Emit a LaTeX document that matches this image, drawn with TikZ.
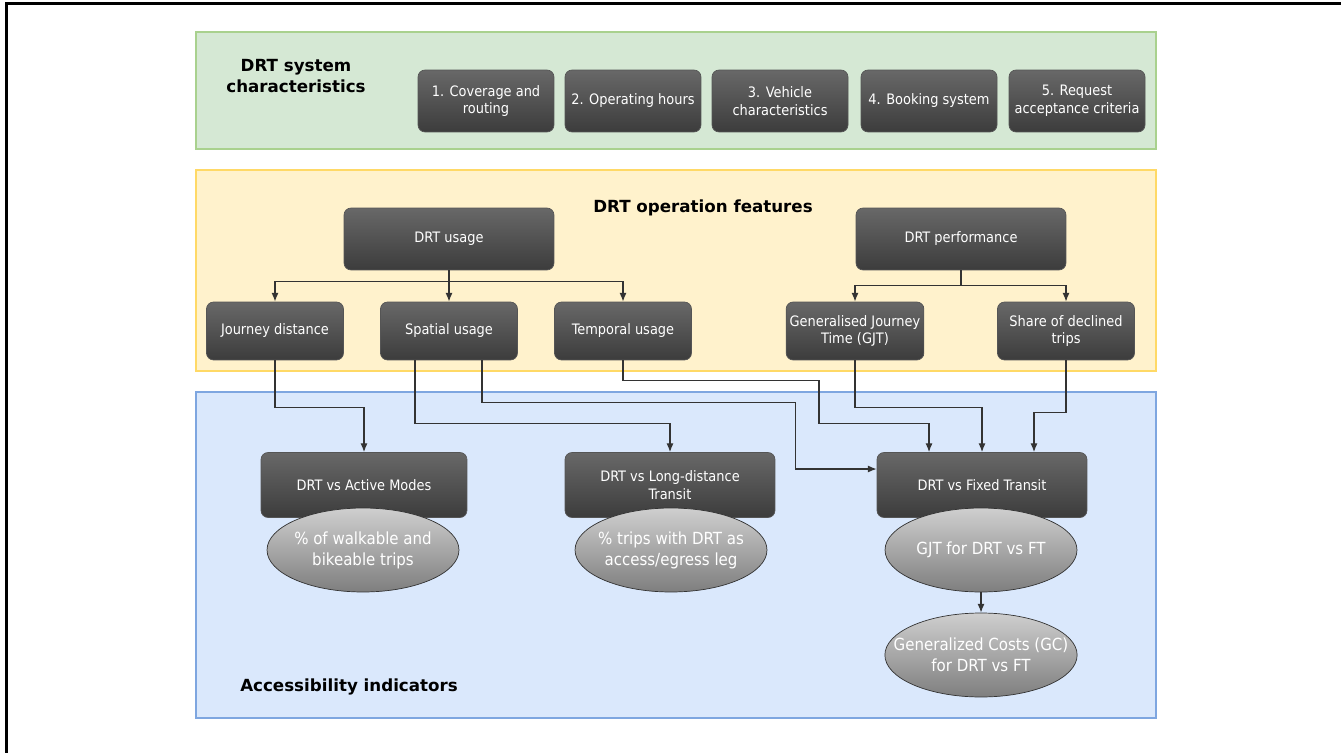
\documentclass[tikz,border=0pt]{standalone}
\usepackage{fontspec}
\setmainfont{DejaVu Sans}
\newfontfamily\condfont{DejaVu Sans Condensed}
\usetikzlibrary{shapes.geometric,arrows.meta}
\definecolor{grfill}{HTML}{D5E8D4}
\definecolor{grline}{HTML}{A9D18E}
\definecolor{yefill}{HTML}{FFF2CC}
\definecolor{yeline}{HTML}{FFD966}
\definecolor{blfill}{HTML}{DAE8FC}
\definecolor{blline}{HTML}{7EA6E0}
\definecolor{boxtop}{HTML}{686868}
\definecolor{boxbot}{HTML}{3C3C3C}
\definecolor{boxline}{HTML}{555555}
\definecolor{ovtop}{HTML}{CFCFCF}
\definecolor{ovbot}{HTML}{7E7E7E}
\definecolor{linecol}{HTML}{333333}
\begin{document}
\begin{tikzpicture}[x=.02cm,y=-.02cm,
	head/.style={font=\fontsize{9.5}{11.5}\selectfont\bfseries,align=center},
	box/.style={rounded corners=4pt,draw=boxline,top color=boxtop,bottom color=boxbot,text=white,
		font=\condfont\fontsize{8.2}{10}\selectfont,align=center,inner sep=2pt},
	oval/.style={ellipse,draw=black!80,top color=ovtop,bottom color=ovbot,text=white,
		font=\condfont\fontsize{9.5}{12}\selectfont,align=center,minimum width=3.84cm,minimum height=1.68cm,
		inner xsep=-11pt,inner ysep=0pt},
	arr/.style={draw=linecol,line width=.7pt,-{Latex[length=5pt,width=4pt]}}]
	\useasboundingbox (0,0) rectangle (1341,753);
	\draw[line width=1.8pt] (6.5,753) -- (6.5,3.5) -- (1341,3.5);
	% bands
	\draw[line width=.6pt,draw=grline,fill=grfill] (196,32) rectangle (1156,149);
	\draw[line width=.6pt,draw=yeline,fill=yefill] (196,170) rectangle (1156,371);
	\draw[line width=.6pt,draw=blline,fill=blfill] (196,392) rectangle (1156,718);
	\node[head] (sys) at (296,76) {DRT system\\characteristics};
	\node[head] (ops) at (703,208) {DRT operation features};
	\node[head] (acc) at (349,687) {Accessibility indicators};
	% system characteristics
	\foreach \n/\x/\t in {cov/486/{1. Coverage and\\routing},hrs/633/{2. Operating hours},veh/780/{3. Vehicle\\characteristics},book/929/{4. Booking system},req/1077/{5. Request\\acceptance criteria}}
		\node[box,minimum width=2.72cm,minimum height=1.24cm] (\n) at (\x,101) {\t};
	% operation features
	\node[box,minimum width=4.2cm,minimum height=1.24cm] (use) at (449,239) {DRT usage};
	\node[box,minimum width=4.2cm,minimum height=1.24cm] (perf) at (961,239) {DRT performance};
	\foreach \n/\x/\t in {jd/275/{Journey distance},sp/449/{Spatial usage},tu/623/{Temporal usage},gjt/855/{Generalised Journey\\Time (GJT)},sdt/1066/{Share of declined\\trips}}
		\node[box,minimum width=2.74cm,minimum height=1.16cm] (\n) at (\x,331) {\t};
	\draw[arr] (use.south) -- ++(0,11) coordinate (u1) -| (jd.north);
	\draw[arr] (u1) -| (tu.north);
	\draw[arr] (use.south) -- (sp.north);
	\draw[arr] (perf.south) -- ++(0,15) coordinate (p1) -| (gjt.north);
	\draw[arr] (p1) -| (sdt.north);
	% accessibility indicators
	\node[box,minimum width=4.12cm,minimum height=1.3cm] (am) at (364,485) {DRT vs Active Modes};
	\node[box,minimum width=4.2cm,minimum height=1.3cm] (ld) at (670,485) {DRT vs Long-distance\\Transit};
	\node[box,minimum width=4.2cm,minimum height=1.3cm] (ft) at (982,485) {DRT vs Fixed Transit};
	\node[oval] (wb) at (363,550) {\% of walkable and\\bikeable trips};
	\node[oval] (ae) at (671,550) {\% trips with DRT as\\access/egress leg};
	\node[oval] (gjtft) at (981,550) {GJT for DRT vs FT};
	\node[oval] (gcft) at (981,655) {Generalized Costs (GC)\\for DRT vs FT};
	\draw[arr] (gjtft.south) -- (gcft.north);
	\draw[arr] (jd.south) -- ++(0,47) -| (am.north);
	\draw[arr] ([xshift=-.68cm]sp.south) -- ++(0,63) -| (ld.north);
	\draw[arr] ([xshift=.66cm]sp.south) -- ++(0,42) -| ([xshift=-1.62cm,yshift=.32cm]ft.west) -- ([yshift=.32cm]ft.west);
	\draw[arr] (tu.south) -- ++(0,20) -| ++(196,43) -| ([xshift=-1.06cm]ft.north);
	\draw[arr] (gjt.south) -- ++(0,47) -| (ft.north);
	\draw[arr] (sdt.south) -- ++(0,52) -| ([xshift=1.04cm]ft.north);
\end{tikzpicture}
\end{document}
